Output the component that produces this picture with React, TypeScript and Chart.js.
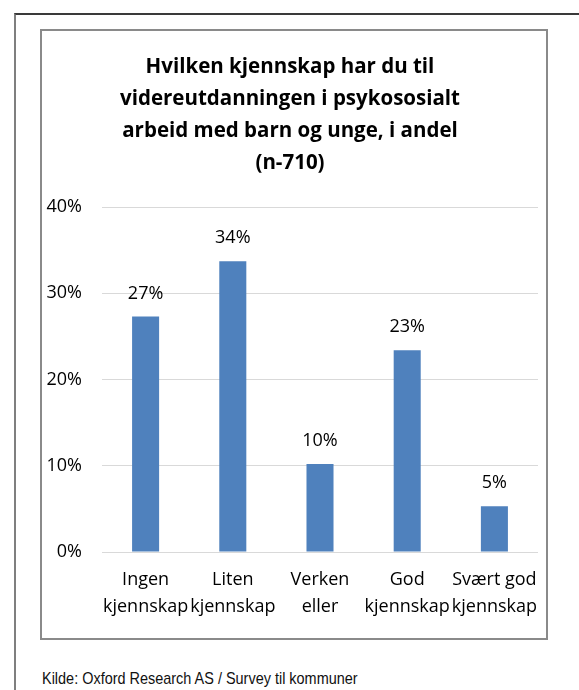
import React, { useEffect, useRef } from "react";
import { Chart, registerables } from "chart.js";

Chart.register(...registerables);

const TITLE_LINES = [
  "Hvilken kjennskap har du til",
  "videreutdanningen i psykososialt",
  "arbeid med barn og unge, i andel",
  "(n-710)",
];
const CATEGORIES = [
  ["Ingen", "kjennskap"],
  ["Liten", "kjennskap"],
  ["Verken", "eller"],
  ["God", "kjennskap"],
  ["Svært god", "kjennskap"],
];
const VALUES = [27.3, 33.7, 10.2, 23.4, 5.3];
const Y_MIN = 0;
const Y_MAX = 40;
const Y_STEP = 10;
const SOURCE = "Kilde: Oxford Research AS / Survey til kommuner";

const BAR_COLOR = "#4F81BD";
const FONT = "'Open Sans', Lato, sans-serif";

const valueLabels = {
  id: "valueLabels",
  afterDatasetsDraw(chart: any) {
    const ctx = chart.ctx;
    const meta = chart.getDatasetMeta(0);
    ctx.save();
    ctx.font = `18px ${FONT}`;
    ctx.fillStyle = "#000";
    ctx.textAlign = "center";
    ctx.textBaseline = "alphabetic";
    meta.data.forEach((bar: any, i: number) => {
      const v = chart.data.datasets[0].data[i] as number;
      ctx.fillText(Math.round(v) + "%", bar.x, bar.y - 18);
    });
    ctx.restore();
  },
};

export default function App() {
  const ref = useRef<HTMLCanvasElement | null>(null);

  useEffect(() => {
    if (!ref.current) return;
    const chart = new Chart(ref.current, {
      type: "bar",
      data: {
        labels: CATEGORIES,
        datasets: [
          {
            data: VALUES,
            backgroundColor: BAR_COLOR,
            borderWidth: 0,
            barPercentage: 0.31,
            categoryPercentage: 1,
          },
        ],
      },
      options: {
        responsive: false,
        animation: false,
        devicePixelRatio: 1,
        layout: { padding: { left: 0, right: 8, top: 0, bottom: 12 } },
        plugins: {
          legend: { display: false },
          tooltip: { enabled: false },
          title: {
            display: true,
            text: TITLE_LINES,
            color: "#000",
            font: { family: FONT, weight: "bold", size: 20.5, lineHeight: 32 / 20.5 },
            padding: { top: 20, bottom: 28 },
          },
        },
        scales: {
          x: {
            grid: { display: false },
            border: { display: false },
            ticks: {
              color: "#000",
              font: { family: FONT, size: 18, lineHeight: 1.5 },
              padding: 6,
              autoSkip: false,
              maxRotation: 0,
              minRotation: 0,
            },
          },
          y: {
            min: Y_MIN,
            max: Y_MAX,
            afterFit: (s: any) => {
              s.width = 60;
            },
            grid: { color: "#d9d9d9", lineWidth: 1, drawTicks: false },
            border: { display: false },
            ticks: {
              stepSize: Y_STEP,
              color: "#000",
              font: { family: FONT, size: 18 },
              padding: 20,
              callback: (v: any) => v + "%",
            },
          },
        },
      },
      plugins: [valueLabels],
    });
    let alive = true;
    if ((document as any).fonts) {
      Promise.all([
        document.fonts.load(`18px 'Open Sans'`),
        document.fonts.load(`bold 20px 'Open Sans'`),
      ]).then(() => {
        if (alive) chart.update();
      });
    }
    return () => {
      alive = false;
      chart.destroy();
    };
  }, []);

  return (
    <div
      style={{
        position: "absolute",
        left: 0,
        top: 0,
        width: 579,
        height: 690,
        overflow: "hidden",
        background: "#fff",
      }}
    >
      <div
        style={{
          position: "absolute",
          left: 14,
          top: 13,
          width: 620,
          height: 720,
          borderLeft: "2px solid #7f7f7f",
          borderTop: "2px solid #3a3a3a",
        }}
      />
      <div
        style={{
          position: "absolute",
          left: 40,
          top: 29,
          width: 504,
          height: 607,
          border: "2px solid #8a8a8a",
          background: "#fff",
        }}
      >
        <canvas ref={ref} width={504} height={607} style={{ display: "block" }} />
      </div>
      <div
        style={{
          position: "absolute",
          left: 42,
          top: 670,
          fontFamily: "'Liberation Sans', Arial, sans-serif",
          fontSize: 17,
          lineHeight: "17px",
          color: "#111",
          whiteSpace: "nowrap",
          transform: "scaleX(0.85)",
          transformOrigin: "0 0",
        }}
      >
        {SOURCE}
      </div>
    </div>
  );
}
